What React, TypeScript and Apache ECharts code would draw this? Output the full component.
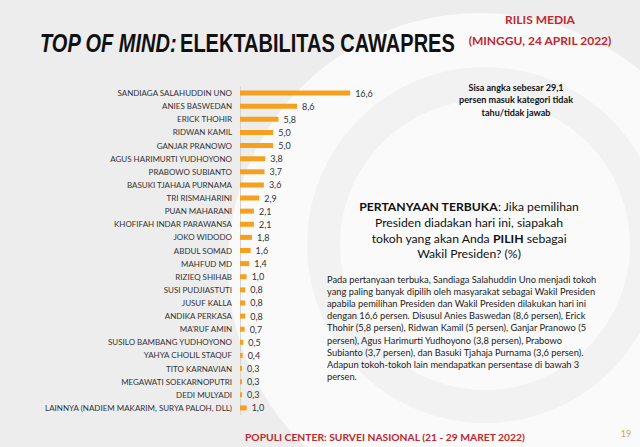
import React, { useEffect, useRef } from "react";
import * as echarts from "echarts";

const categories = [
  "SANDIAGA SALAHUDDIN UNO",
  "ANIES BASWEDAN",
  "ERICK THOHIR",
  "RIDWAN KAMIL",
  "GANJAR PRANOWO",
  "AGUS HARIMURTI YUDHOYONO",
  "PRABOWO SUBIANTO",
  "BASUKI TJAHAJA PURNAMA",
  "TRI RISMAHARINI",
  "PUAN MAHARANI",
  "KHOFIFAH INDAR PARAWANSA",
  "JOKO WIDODO",
  "ABDUL SOMAD",
  "MAHFUD MD",
  "RIZIEQ SHIHAB",
  "SUSI PUDJIASTUTI",
  "JUSUF KALLA",
  "ANDIKA PERKASA",
  "MA'RUF AMIN",
  "SUSILO BAMBANG YUDHOYONO",
  "YAHYA CHOLIL STAQUF",
  "TITO KARNAVIAN",
  "MEGAWATI SOEKARNOPUTRI",
  "DEDI MULYADI",
  "LAINNYA (NADIEM MAKARIM, SURYA PALOH, DLL)",
];

const values = [
  16.6, 8.6, 5.8, 5.0, 5.0, 3.8, 3.7, 3.6, 2.9, 2.1, 2.1, 1.8, 1.6, 1.4, 1.0,
  0.8, 0.8, 0.8, 0.7, 0.5, 0.4, 0.3, 0.3, 0.3, 1.0,
];

const titleMain = "ELEKTABILITAS CAWAPRES";
const titleItalic = "TOP OF MIND:";
const releaseLines = ["RILIS MEDIA", "(MINGGU, 24 APRIL 2022)"];
const noteLines = [
  "Sisa angka sebesar 29,1",
  "persen masuk kategori tidak",
  "tahu/tidak jawab",
];
const paragraphLines = [
  "Pada pertanyaan terbuka, Sandiaga Salahuddin Uno menjadi tokoh",
  "yang paling banyak dipilih oleh masyarakat sebagai Wakil Presiden",
  "apabila pemilihan Presiden dan Wakil Presiden dilakukan hari ini",
  "dengan 16,6 persen. Disusul Anies Baswedan (8,6 persen), Erick",
  "Thohir (5,8 persen), Ridwan Kamil (5 persen), Ganjar Pranowo (5",
  "persen), Agus Harimurti Yudhoyono (3,8 persen), Prabowo",
  "Subianto (3,7 persen), dan Basuki Tjahaja Purnama (3,6 persen).",
  "Adapun tokoh-tokoh lain mendapatkan persentase di bawah 3",
  "persen.",
];
const footerText = "POPULI CENTER: SURVEI NASIONAL (21 - 29 MARET 2022)";
const pageNumber = "19";

const RED = "#c0282d";
const FONT = "Lato, 'Open Sans', sans-serif";
const TITLE_FONT = "'Liberation Sans', Arial, sans-serif";

export default function App() {
  const ref = useRef<HTMLDivElement>(null);

  useEffect(() => {
    if (!ref.current) return;
    const chart = echarts.init(ref.current, null, { renderer: "svg" });

    const paraGraphics = paragraphLines.map((t, i) => ({
      type: "text",
      z: 10,
      x: 327,
      y: 279 + i * 12.2,
      style: {
        text: t,
        fontFamily: FONT,
        fontSize: 9.3,
        fill: "#222",
        verticalAlign: "middle",
      },
    }));

    const noteGraphics = noteLines.map((t, i) => ({
      type: "text",
      z: 10,
      x: 516,
      y: 87 + i * 12.5,
      style: {
        text: t,
        fontFamily: FONT,
        fontSize: 9.1,
        fontWeight: "bold",
        fill: "#111",
        align: "center",
        verticalAlign: "middle",
      },
    }));

    const releaseGraphics = releaseLines.map((t, i) => ({
      type: "text",
      z: 10,
      x: 540,
      y: 19 + i * 21,
      style: {
        text: t,
        fontFamily: FONT,
        fontSize: 12,
        fontWeight: "bold",
        fill: RED,
        align: "center",
        verticalAlign: "middle",
      },
    }));

    const option: any = {
      animation: false,
      backgroundColor: "#ededed",
      grid: {
        left: 240,
        top: 86.5,
        width: 132.7,
        height: 328,
        containLabel: false,
      },
      xAxis: {
        type: "value",
        min: 0,
        max: 20,
        show: false,
      },
      yAxis: {
        type: "category",
        data: categories,
        inverse: true,
        axisLine: { show: true, lineStyle: { color: "#d6d6d6", width: 1 } },
        axisTick: { show: false },
        axisLabel: {
          fontFamily: FONT,
          fontSize: 8,
          color: "#333",
          margin: 8,
        },
      },
      series: [
        {
          type: "bar",
          data: values,
          barWidth: 5,
          itemStyle: { color: "#f5a01f" },
          label: {
            show: true,
            position: "right",
            distance: 5,
            fontFamily: FONT,
            fontSize: 9,
            color: "#333",
            formatter: (p: any) => p.value.toFixed(1).replace(".", ","),
          },
        },
      ],
      graphic: [
        {
          type: "circle",
          z: -5,
          shape: { cx: 480, cy: 265, r: 252 },
          style: { fill: "#fafafa" },
          silent: true,
        },
        {
          type: "ring",
          z: -4,
          shape: { cx: 485, cy: 245, r: 178, r0: 145 },
          style: { fill: "#f2f2f2" },
          silent: true,
        },
        {
          type: "text",
          z: 10,
          x: 40,
          y: 44,
          scaleX: 0.8,
          style: {
            text: `{a|${titleItalic}} {b|${titleMain}}`,
            verticalAlign: "middle",
            rich: {
              a: {
                fontFamily: TITLE_FONT,
                fontSize: 25,
                fontWeight: "bold",
                fontStyle: "italic",
                fill: "#111",
              },
              b: {
                fontFamily: TITLE_FONT,
                fontSize: 25,
                fontWeight: "bold",
                fill: "#111",
              },
            },
          },
        },
        ...releaseGraphics,
        ...noteGraphics,
        {
          type: "text",
          z: 10,
          x: 469,
          y: 199,
          style: {
            text: [
              "{b|PERTANYAAN TERBUKA}{n|: Jika pemilihan}",
              "{n|Presiden diadakan hari ini, siapakah}",
              "{n|tokoh yang akan Anda }{b|PILIH}{n| sebagai}",
              "{n|Wakil Presiden? (%)}",
            ].join("\n"),
            align: "center",
            verticalAlign: "top",
            lineHeight: 15.6,
            rich: {
              b: {
                fontFamily: FONT,
                fontSize: 12.2,
                fontWeight: "bold",
                fill: "#111",
                lineHeight: 15.6,
              },
              n: {
                fontFamily: FONT,
                fontSize: 12.2,
                fill: "#111",
                lineHeight: 15.6,
              },
            },
          },
        },
        ...paraGraphics,
        {
          type: "text",
          z: 10,
          x: 245,
          y: 437,
          style: {
            text: footerText,
            fontFamily: FONT,
            fontSize: 10.3,
            fontWeight: "bold",
            fill: RED,
            verticalAlign: "middle",
          },
        },
        {
          type: "text",
          z: 10,
          x: 626,
          y: 433,
          style: {
            text: pageNumber,
            fontFamily: FONT,
            fontSize: 9,
            fill: "#c9a46e",
            align: "center",
            verticalAlign: "middle",
          },
        },
      ],
    };

    chart.setOption(option);
    return () => chart.dispose();
  }, []);

  return (
    <div
      ref={ref}
      style={{ position: "fixed", left: 0, top: 0, width: 640, height: 447 }}
    />
  );
}
